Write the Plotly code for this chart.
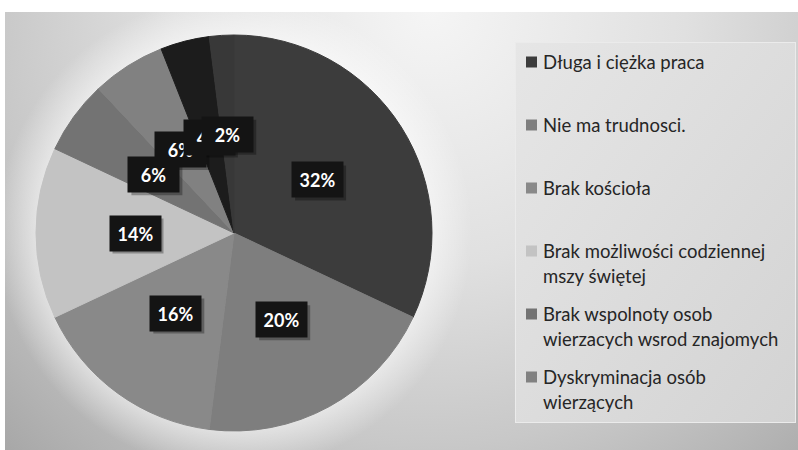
import base64
import math
import textwrap

import plotly.graph_objects as go

# Survey answers: share of respondents (%) per slice, clockwise from 12 o'clock
values = [32, 20, 16, 14, 6, 6, 4, 2]
slice_colors = ["#3c3c3c", "#7e7e7e", "#898989", "#c3c3c3",
                "#737373", "#818181", "#1c1c1c", "#383838"]
legend_names = [
    "Długa i ciężka praca",
    "Nie ma trudnosci.",
    "Brak kościoła",
    "Brak możliwości codziennej mszy świętej",
    "Brak wspolnoty osob wierzacych wsrod znajomych",
    "Dyskryminacja osób wierzących",
]

W, H = 798, 450
CX, CY, R = 234, 233, 198  # pie centre and radius in pixels
BOX_W, BOX_H = 51, 35      # data-label box size in pixels


def px(x):
    return x / W


def py(y):
    return 1 - y / H


# Background: white frame, grey vignette, soft glow round the pie, legend panel
svg = f"""<svg xmlns='http://www.w3.org/2000/svg' width='{W}' height='{H}' viewBox='0 0 {W} {H}'>
<defs>
<radialGradient id='bg' gradientUnits='userSpaceOnUse' cx='430' cy='10' r='640'>
<stop offset='0' stop-color='#f5f5f5'/>
<stop offset='0.4' stop-color='#e0e0e0'/>
<stop offset='0.68' stop-color='#c8c8c8'/>
<stop offset='1' stop-color='#a2a2a2'/>
</radialGradient>
<radialGradient id='glow' gradientUnits='userSpaceOnUse' cx='{CX}' cy='{CY}' r='{R + 40}'>
<stop offset='{R / (R + 40):.3f}' stop-color='#ffffff' stop-opacity='0.5'/>
<stop offset='1' stop-color='#ffffff' stop-opacity='0'/>
</radialGradient>
<linearGradient id='lg' x1='0' y1='0' x2='1' y2='1'>
<stop offset='0' stop-color='#e6e6e6'/>
<stop offset='1' stop-color='#d3d3d3'/>
</linearGradient>
</defs>
<rect x='0' y='0' width='{W}' height='{H}' fill='#ffffff'/>
<rect x='5' y='12' width='{W - 5}' height='{H - 12}' fill='url(#bg)'/>
<circle cx='{CX}' cy='{CY}' r='{R + 40}' fill='url(#glow)'/>
<rect x='515.5' y='42.5' width='280' height='380' fill='url(#lg)' stroke='#ebebeb' stroke-width='1'/>
</svg>"""
bg_uri = "data:image/svg+xml;base64," + base64.b64encode(svg.encode("utf-8")).decode()

fig = go.Figure()
fig.add_trace(go.Pie(
    values=values,
    sort=False,
    direction="clockwise",
    rotation=0,
    marker=dict(colors=slice_colors, line=dict(width=1, color=slice_colors)),
    textinfo="none",
    hoverinfo="percent",
    showlegend=False,
    domain=dict(x=[px(CX - R), px(CX + R)], y=[py(CY + R), py(CY - R)]),
))

annotations = []
shapes = []

# Data labels: black boxes at half radius on each slice's mid-angle
total = sum(values)
start = 0.0
for v in values:
    share = v / total
    mid = (start + share / 2) * 2 * math.pi
    start += share
    lx = CX + 0.5 * R * math.sin(mid)
    ly = CY - 0.5 * R * math.cos(mid)
    txt = f"{round(share * 100)}%"
    # drop shadow behind the label box
    shapes.append(dict(type="rect", xref="paper", yref="paper", layer="above",
                       x0=px(lx - BOX_W / 2 + 3), x1=px(lx + BOX_W / 2 + 3),
                       y0=py(ly + BOX_H / 2 + 3), y1=py(ly - BOX_H / 2 + 3),
                       fillcolor="rgba(0,0,0,0.3)", line=dict(width=0)))
    annotations.append(dict(text=f"<b>{txt}</b>", x=px(lx), y=py(ly),
                            xref="paper", yref="paper", showarrow=False,
                            width=BOX_W - 12, height=BOX_H - 12, borderpad=6,
                            xanchor="center", yanchor="middle", bgcolor="#141414",
                            font=dict(family="Lato", size=18, color="#ffffff")))

# Legend entries: square marker plus wrapped text
for i, name in enumerate(legend_names):
    y0 = 62 + 63 * i
    shapes.append(dict(type="rect", xref="paper", yref="paper",
                       x0=px(526), x1=px(537), y0=py(y0 + 5.5), y1=py(y0 - 5.5),
                       fillcolor=slice_colors[i], line=dict(width=0)))
    for k, line in enumerate(textwrap.wrap(name, 26)):
        annotations.append(dict(text=line, x=px(541), y=py(y0 + 25 * k),
                                xref="paper", yref="paper", showarrow=False,
                                xanchor="left", yanchor="middle",
                                font=dict(family="Lato", size=18.5, color="#262626")))

fig.update_layout(
    width=W, height=H,
    margin=dict(l=0, r=0, t=0, b=0),
    paper_bgcolor="#ffffff",
    images=[dict(source=bg_uri, xref="paper", yref="paper", x=0, y=1,
                 sizex=1, sizey=1, xanchor="left", yanchor="top",
                 sizing="stretch", layer="below")],
    shapes=shapes,
    annotations=annotations,
)

fig.write_html("out.html")
